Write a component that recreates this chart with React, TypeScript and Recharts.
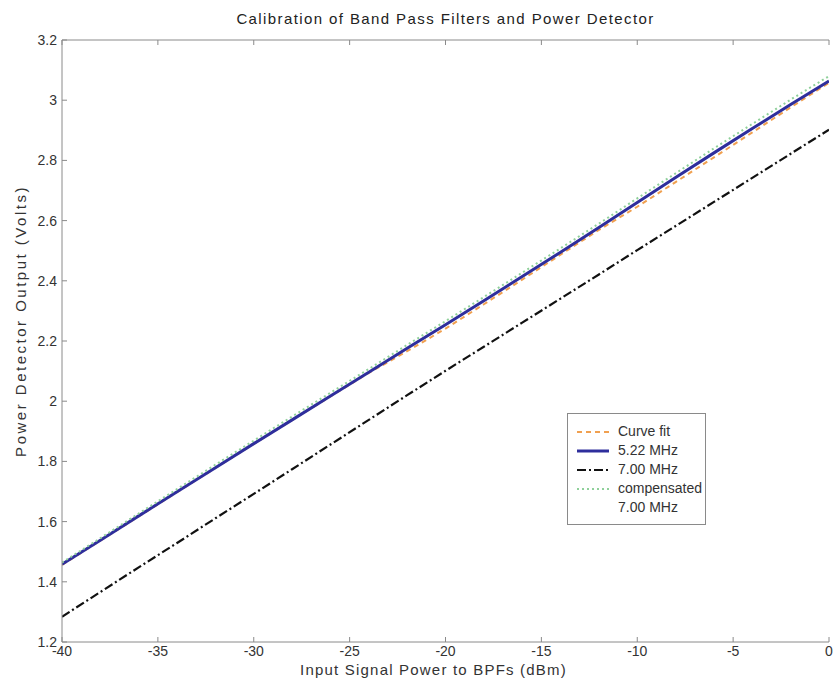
import React from 'react';
import { LineChart, Line, XAxis, YAxis, Legend } from 'recharts';

// Input power sweep (dBm)
const powerDbm = [-40, -38, -36, -34, -32, -30, -28, -26, -24, -22, -20, -18, -16, -14, -12, -10, -8, -6, -4, -2, 0];

// Detector output (V)
const curveFit = [1.456, 1.537, 1.617, 1.698, 1.778, 1.858, 1.937, 2.016, 2.094, 2.166, 2.241, 2.322, 2.404, 2.487, 2.569, 2.646, 2.728, 2.81, 2.893, 2.976, 3.058];
const mhz522 = [1.458, 1.538, 1.619, 1.699, 1.779, 1.859, 1.938, 2.017, 2.096, 2.176, 2.254, 2.334, 2.414, 2.495, 2.577, 2.66, 2.743, 2.825, 2.906, 2.986, 3.064];
const mhz700 = [1.284, 1.366, 1.448, 1.529, 1.611, 1.692, 1.774, 1.856, 1.938, 2.02, 2.101, 2.181, 2.261, 2.341, 2.421, 2.502, 2.582, 2.662, 2.742, 2.822, 2.902];
const compensated700 = [1.464, 1.545, 1.627, 1.708, 1.789, 1.869, 1.949, 2.028, 2.107, 2.187, 2.266, 2.346, 2.427, 2.508, 2.59, 2.674, 2.757, 2.84, 2.921, 3.002, 3.08];

const xTicks = [-40, -35, -30, -25, -20, -15, -10, -5, 0];
const yTicks = [1.2, 1.4, 1.6, 1.8, 2, 2.2, 2.4, 2.6, 2.8, 3, 3.2];

const titleText = 'Calibration of Band Pass Filters and Power Detector';
const xLabelText = 'Input Signal Power to BPFs (dBm)';
const yLabelText = 'Power Detector Output (Volts)';

const rows = powerDbm.map((p, i) => ({
  p,
  fit: curveFit[i],
  a: mhz522[i],
  b: mhz700[i],
  c: compensated700[i],
}));

const FONT = 'Arial, "Liberation Sans", Helvetica, sans-serif';
const AXIS = '#8a8a8a';
const INK = '#333333';

type SeriesStyle = {
  key: string;
  label: string[];
  color: string;
  width: number;
  dash?: string;
};

const seriesStyles: SeriesStyle[] = [
  { key: 'fit', label: ['Curve fit'], color: '#f0a050', width: 2, dash: '5 4' },
  { key: 'a', label: ['5.22 MHz'], color: '#2e2e9c', width: 3 },
  { key: 'b', label: ['7.00 MHz'], color: '#111111', width: 2.2, dash: '9 3 2 3' },
  { key: 'c', label: ['compensated', '7.00 MHz'], color: '#8fd09a', width: 2, dash: '2 3' },
];

const EmptyTick = () => <g />;

const fmtY = (v: number) => String(Number(v.toFixed(1)));
const fmtX = (v: number) => String(v);

const renderTitle = (props: any) => {
  const vb = props.viewBox || {};
  return (
    <text
      x={vb.x + vb.width / 2}
      y={18}
      textAnchor="middle"
      dominantBaseline="central"
      fontSize={15}
      letterSpacing={1.4}
      fill="#222"
      fontFamily={FONT}
    >
      {titleText}
    </text>
  );
};

const renderXLabel = (props: any) => {
  const vb = props.viewBox || {};
  return (
    <text
      x={vb.x + vb.width / 2 - 12}
      y={vb.y + 27}
      textAnchor="middle"
      dominantBaseline="central"
      fontSize={15}
      letterSpacing={1.2}
      fill={INK}
      fontFamily={FONT}
    >
      {xLabelText}
    </text>
  );
};

const renderYLabel = (props: any) => {
  const vb = props.viewBox || {};
  const cx = vb.x + 8;
  const cy = vb.y + vb.height / 2 - 20;
  return (
    <text
      x={cx}
      y={cy}
      transform={`rotate(-90 ${cx} ${cy})`}
      textAnchor="middle"
      dominantBaseline="central"
      fontSize={15}
      letterSpacing={2.5}
      fill={INK}
      fontFamily={FONT}
    >
      {yLabelText}
    </text>
  );
};

const LegendBox = () => (
  <div
    style={{
      border: `1px solid ${AXIS}`,
      background: '#fff',
      padding: '8px 3px 7px 8px',
      fontFamily: FONT,
      fontSize: 14,
      color: INK,
      lineHeight: '19px',
    }}
  >
    {seriesStyles.map((s) => (
      <div key={s.key} style={{ display: 'flex', alignItems: 'flex-start' }}>
        <svg width={34} height={19} style={{ flex: 'none', marginRight: 8 }}>
          <line
            x1={1}
            x2={33}
            y1={10}
            y2={10}
            stroke={s.color}
            strokeWidth={s.width}
            strokeDasharray={s.dash}
          />
        </svg>
        <div>
          {s.label.map((t) => (
            <div key={t} style={{ whiteSpace: 'nowrap' }}>{t}</div>
          ))}
        </div>
      </div>
    ))}
  </div>
);

export default function App() {
  return (
    <>
      <style>{'body{margin:0;background:#fff}'}</style>
      <LineChart
        width={833}
        height={692}
        data={rows}
        margin={{ top: 10, right: 4, bottom: 10, left: 12 }}
        style={{ fontFamily: FONT }}
      >
        <XAxis
          xAxisId="bottom"
          dataKey="p"
          type="number"
          domain={[-40, 0]}
          ticks={xTicks}
          orientation="bottom"
          height={40}
          tickSize={-5}
          tickMargin={9}
          stroke={AXIS}
          tick={{ fill: INK, fontSize: 14 }}
          tickFormatter={fmtX}
          label={renderXLabel}
          allowDataOverflow
        />
        <XAxis
          xAxisId="top"
          dataKey="p"
          type="number"
          domain={[-40, 0]}
          ticks={xTicks}
          orientation="top"
          height={30}
          tickSize={-5}
          stroke={AXIS}
          tick={EmptyTick}
          label={renderTitle}
          allowDataOverflow
        />
        <YAxis
          yAxisId="left"
          type="number"
          domain={[1.2, 3.2]}
          ticks={yTicks}
          width={50}
          tickSize={-5}
          tickMargin={10}
          stroke={AXIS}
          tick={{ fill: INK, fontSize: 14 }}
          tickFormatter={fmtY}
          label={renderYLabel}
          allowDataOverflow
        />
        <YAxis
          yAxisId="right"
          orientation="right"
          type="number"
          domain={[1.2, 3.2]}
          ticks={yTicks}
          width={0}
          tickSize={-5}
          stroke={AXIS}
          tick={EmptyTick}
          allowDataOverflow
        />
        {seriesStyles.map((s) => (
          <Line
            key={s.key}
            xAxisId="bottom"
            yAxisId="left"
            dataKey={s.key}
            name={s.label.join(' ')}
            type="linear"
            stroke={s.color}
            strokeWidth={s.width}
            strokeDasharray={s.dash}
            dot={false}
            activeDot={false}
            isAnimationActive={false}
          />
        ))}
        <Legend
          layout="vertical"
          align="center"
          verticalAlign="middle"
          content={LegendBox}
          wrapperStyle={{ left: 567, top: 413, width: 'auto', height: 'auto' }}
        />
      </LineChart>
    </>
  );
}
